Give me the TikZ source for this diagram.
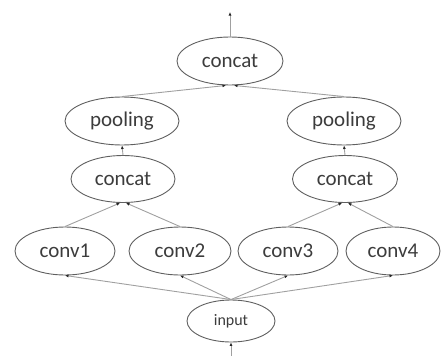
\documentclass[tikz,border=0pt]{standalone}
\usepackage{fontspec}
\setmainfont{Carlito}
\usetikzlibrary{shapes.geometric,arrows.meta}
\definecolor{edgegray}{RGB}{95,95,95}
\definecolor{linegray}{RGB}{160,160,160}
\definecolor{textgray}{RGB}{60,60,60}
\begin{document}
\begin{tikzpicture}[x=1pt,y=-1pt,
  op/.style={ellipse,draw=edgegray,line width=0.9pt,inner sep=0pt,text=textgray,font=\fontsize{21}{24}\selectfont},
  conn/.style={draw=linegray,line width=0.9pt,-{Latex[length=3.5pt,width=3pt,color=black!85]}}]
\useasboundingbox (0,0) rectangle (444,356);
\node[op,minimum width=106pt,minimum height=48pt] (top) at (230,61) {concat};
\node[op,minimum width=114pt,minimum height=48pt] (poolL) at (122,121) {pooling};
\node[op,minimum width=114pt,minimum height=48pt] (poolR) at (344,121) {pooling};
\node[op,minimum width=104pt,minimum height=47pt] (catL) at (123,179) {concat};
\node[op,minimum width=105pt,minimum height=47pt] (catR) at (345,179) {concat};
\node[op,minimum width=100pt,minimum height=48pt] (conv1) at (65,251) {conv1};
\node[op,minimum width=102pt,minimum height=48pt] (conv2) at (180,251) {conv2};
\node[op,minimum width=100pt,minimum height=48pt] (conv3) at (288,251) {conv3};
\node[op,minimum width=94pt,minimum height=48pt] (conv4) at (393,251) {conv4};
\node[op,minimum width=88pt,minimum height=42pt,font=\fontsize{16}{19}\selectfont] (input) at (231,321) {input};
\coordinate (out) at (230,12);
\coordinate (in) at (231,356);
% arrows
\draw[conn] (in) -- (input.south);
\foreach \c in {conv1,conv2,conv3,conv4}
  \draw[conn] (input.north) -- (\c.south);
\draw[conn] (conv1.north) -- ([xshift=-3pt]catL.south);
\draw[conn] (conv2.north) -- ([xshift=3pt]catL.south);
\draw[conn] (conv3.north) -- ([xshift=-3pt]catR.south);
\draw[conn] (conv4.north) -- ([xshift=3pt]catR.south);
\draw[conn] (catL.north) -- (poolL.south);
\draw[conn] (catR.north) -- (poolR.south);
\draw[conn] (poolL.north) -- ([xshift=-4pt]top.south);
\draw[conn] (poolR.north) -- ([xshift=4pt]top.south);
\draw[conn] (top.north) -- (out);
\end{tikzpicture}
\end{document}
